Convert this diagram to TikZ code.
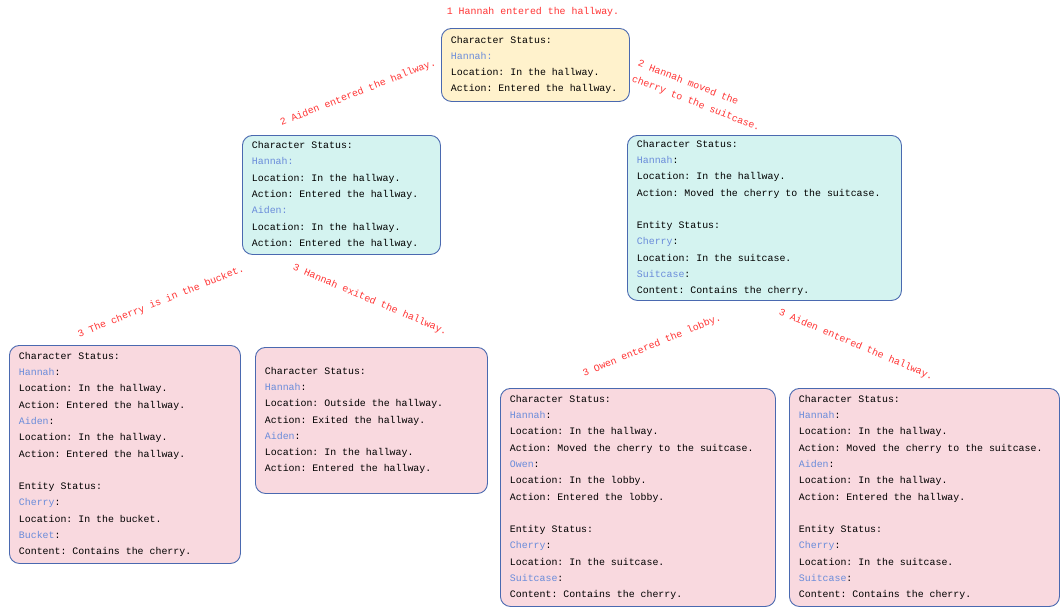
\documentclass[tikz,border=0pt]{standalone}
\usepackage{fontspec}
\setmonofont{Liberation Mono}
\usepackage{xcolor}
\usepackage{tikz}

\definecolor{boxline}{HTML}{4A69B0}
\definecolor{namecol}{HTML}{6A8CDA}
\definecolor{evred}{HTML}{FF3434}
\definecolor{rootfill}{HTML}{FFF2CC}
\definecolor{midfill}{HTML}{D4F3F0}
\definecolor{leaffill}{HTML}{F9D9DF}

\newcommand{\who}[1]{\textcolor{namecol}{#1}}
\newcommand{\blankline}{\\ \mbox{}\\}

\begin{document}
\begin{tikzpicture}[x=1pt,y=-1pt,
		font=\ttfamily\fontsize{9.9pt}{16.3pt}\selectfont,
		statebox/.style={draw=boxline, line width=0.9pt, rounded corners=10pt,
			anchor=north west, inner xsep=9.5pt, inner ysep=3pt, align=left,
			execute at begin node={\spaceskip=0pt\xspaceskip=0pt\relax}},
		rootstate/.style={statebox, fill=rootfill},
		midstate/.style={statebox, fill=midfill},
		leafstate/.style={statebox, fill=leaffill},
		eventlabel/.style={text=evred, inner sep=1pt}]
				\useasboundingbox (0,0) rectangle (1060,608);
				
				% root
				\node[rootstate, text width=169pt, minimum height=73pt] (root) at (441,28)
				{Character Status:\\
				 \who{Hannah:}\\
				 Location: In the hallway.\\
				 Action: Entered the hallway.};
				
				% second level
				\node[midstate, text width=179pt, minimum height=119pt] (aidenIn) at (242,135)
				{Character Status:\\
				 \who{Hannah:}\\
				 Location: In the hallway.\\
				 Action: Entered the hallway.\\
				 \who{Aiden:}\\
				 Location: In the hallway.\\
				 Action: Entered the hallway.};
				
				\node[midstate, text width=255pt, minimum height=165pt] (moveCherry) at (627,135)
				{Character Status:\\
				 \who{Hannah}:\\
				 Location: In the hallway.\\
				 Action: Moved the cherry to the suitcase.\blankline
				 Entity Status:\\
				 \who{Cherry}:\\
				 Location: In the suitcase.\\
				 \who{Suitcase}:\\
				 Content: Contains the cherry.};
				
				% third level (left)
				\node[leafstate, text width=212pt, minimum height=218pt] (inBucket) at (9,345)
				{Character Status:\\
				 \who{Hannah}:\\
				 Location: In the hallway.\\
				 Action: Entered the hallway.\\
				 \who{Aiden}:\\
				 Location: In the hallway.\\
				 Action: Entered the hallway.\blankline
				 Entity Status:\\
				 \who{Cherry}:\\
				 Location: In the bucket.\\
				 \who{Bucket}:\\
				 Content: Contains the cherry.};
				
				\node[leafstate, text width=213pt, minimum height=146pt] (hannahOut) at (255,347)
				{Character Status:\\
				 \who{Hannah}:\\
				 Location: Outside the hallway.\\
				 Action: Exited the hallway.\\
				 \who{Aiden}:\\
				 Location: In the hallway.\\
				 Action: Entered the hallway.};
				
				% third level (right)
				\node[leafstate, text width=256pt, minimum height=218pt] (owenIn) at (500,388)
				{Character Status:\\
				 \who{Hannah}:\\
				 Location: In the hallway.\\
				 Action: Moved the cherry to the suitcase.\\
				 \who{Owen}:\\
				 Location: In the lobby.\\
				 Action: Entered the lobby.\blankline
				 Entity Status:\\
				 \who{Cherry}:\\
				 Location: In the suitcase.\\
				 \who{Suitcase}:\\
				 Content: Contains the cherry.};
				
				\node[leafstate, text width=251pt, minimum height=218pt] (aidenLate) at (789,388)
				{Character Status:\\
				 \who{Hannah}:\\
				 Location: In the hallway.\\
				 Action: Moved the cherry to the suitcase.\\
				 \who{Aiden}:\\
				 Location: In the hallway.\\
				 Action: Entered the hallway.\blankline
				 Entity Status:\\
				 \who{Cherry}:\\
				 Location: In the suitcase.\\
				 \who{Suitcase}:\\
				 Content: Contains the cherry.};
				
				% event labels
				\node[eventlabel] (ev1) at (533,12) {1 Hannah entered the hallway.};
				\node[eventlabel, rotate=21.5] (ev2a) at (358,93) {2 Aiden entered the hallway.};
				\node[eventlabel, rotate=-21.3, align=left] (ev2b) at (699,96)
				{2 Hannah moved the\\cherry to the suitcase.};
				\node[eventlabel, rotate=21.9] (ev3a) at (161,302) {3 The cherry is in the bucket.};
				\node[eventlabel, rotate=-22.9] (ev3b) at (370,300) {3 Hannah exited the hallway.};
				\node[eventlabel, rotate=22.3] (ev3c) at (652,346) {3 Owen entered the lobby.};
				\node[eventlabel, rotate=-22.9] (ev3d) at (856,345) {3 Aiden entered the hallway.};
			\end{tikzpicture}
\end{document}
